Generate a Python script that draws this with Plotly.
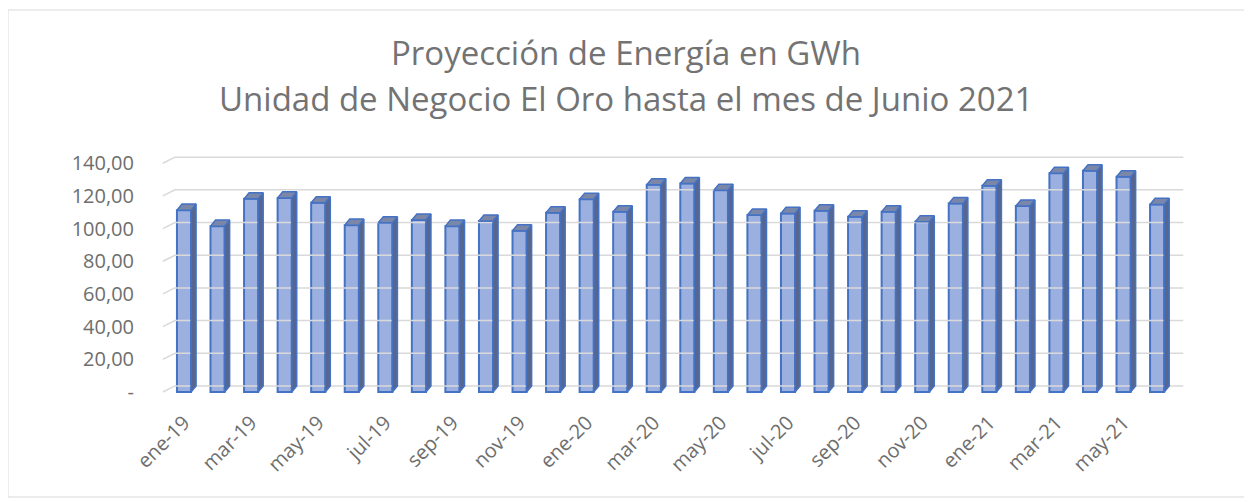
import plotly.graph_objects as go

months = ["ene-19","feb-19","mar-19","abr-19","may-19","jun-19","jul-19","ago-19","sep-19","oct-19","nov-19","dic-19",
          "ene-20","feb-20","mar-20","abr-20","may-20","jun-20","jul-20","ago-20","sep-20","oct-20","nov-20","dic-20",
          "ene-21","feb-21","mar-21","abr-21","may-21","jun-21"]
energia_gwh = [111.3, 101.5, 118.2, 118.8, 115.8, 102.1, 103.6, 105.2, 101.5, 104.6, 98.7, 109.7,
               118.0, 110.3, 126.8, 127.6, 123.5, 108.3, 109.3, 110.9, 107.2, 110.3, 104.2, 115.4,
               126.2, 113.8, 133.8, 135.4, 131.7, 114.8]
y_ticks = [0, 20, 40, 60, 80, 100, 120, 140]
y_labels = ["-", "20,00", "40,00", "60,00", "80,00", "100,00", "120,00", "140,00"]

title1 = "Proyección de Energía en GWh"
title2 = "Unidad de Negocio El Oro hasta el mes de Junio 2021"

# 3D look parameters (in axis units)
W = 0.42   # front face width
DX = 0.15  # depth shift in x
DY = 3.7   # depth shift in y

xs = list(range(len(months)))
title_grey = "#737373"
tick_grey = "#6E6E6E"
font_family = "'Open Sans', Lato, sans-serif"

fig = go.Figure()

# back-wall gridlines with side-wall diagonal
gx, gy = [], []
for v in y_ticks:
    gx += [-0.63, -0.27, 29.78, None]
    gy += [v, v + DY, v + DY, None]
fig.add_trace(go.Scatter(x=gx, y=gy, mode="lines", line=dict(color="#D9D9D9", width=1.5),
                         hoverinfo="skip", showlegend=False))

# side faces
sx, sy = [], []
for i, v in zip(xs, energia_gwh):
    r = i + W / 2
    sx += [r, r + DX, r + DX, r, r, None]
    sy += [0, DY, v + DY, v, 0, None]
fig.add_trace(go.Scatter(x=sx, y=sy, mode="lines", fill="toself", fillcolor="#56668F",
                         line=dict(color="#4472C4", width=1.5), hoverinfo="skip", showlegend=False))

# top faces
tx, ty = [], []
for i, v in zip(xs, energia_gwh):
    l, r = i - W / 2, i + W / 2
    tx += [l, r, r + DX, l + DX, l, None]
    ty += [v, v, v + DY, v + DY, v, None]
fig.add_trace(go.Scatter(x=tx, y=ty, mode="lines", fill="toself", fillcolor="#7A87A8",
                         line=dict(color="#4472C4", width=1.5), hoverinfo="skip", showlegend=False))

# front faces
fig.add_trace(go.Bar(x=xs, y=energia_gwh, width=W, marker=dict(color="#9CB0E0",
                     line=dict(color="#4472C4", width=2)), showlegend=False))

fig.update_layout(
    width=1244, height=494,
    margin=dict(l=152, r=62, t=142, b=102),
    paper_bgcolor="white", plot_bgcolor="white",
    font=dict(family=font_family, color=tick_grey),
    xaxis=dict(range=[-0.715, 29.98], tickmode="array", tickvals=xs[::2], ticktext=months[::2],
               tickangle=-45, tickfont=dict(size=20, color=tick_grey), showgrid=False, zeroline=False,
               showline=False, ticks="", ticklabelstandoff=6, automargin=False),
    yaxis=dict(range=[-4.9, 148.1], tickmode="array", tickvals=y_ticks, ticktext=y_labels,
               tickfont=dict(size=20, color=tick_grey), showgrid=False, zeroline=False, showline=False,
               ticks="", ticklabelstandoff=25, automargin=False),
    annotations=[
        dict(text=title1, xref="paper", yref="paper", x=0.452, y=1.392, xanchor="center", yanchor="middle",
             showarrow=False, font=dict(size=33, color=title_grey, family=font_family)),
        dict(text=title2, xref="paper", yref="paper", x=0.452, y=1.208, xanchor="center", yanchor="middle",
             showarrow=False, font=dict(size=33, color=title_grey, family=font_family)),
    ],
    shapes=[dict(type="rect", xref="paper", yref="paper", x0=-0.1476, x1=1.0534, y0=-0.388, y1=1.56,
                 line=dict(color="#D9D9D9", width=1), fillcolor="rgba(0,0,0,0)", layer="below")],
)

fig.write_html("out.html")
